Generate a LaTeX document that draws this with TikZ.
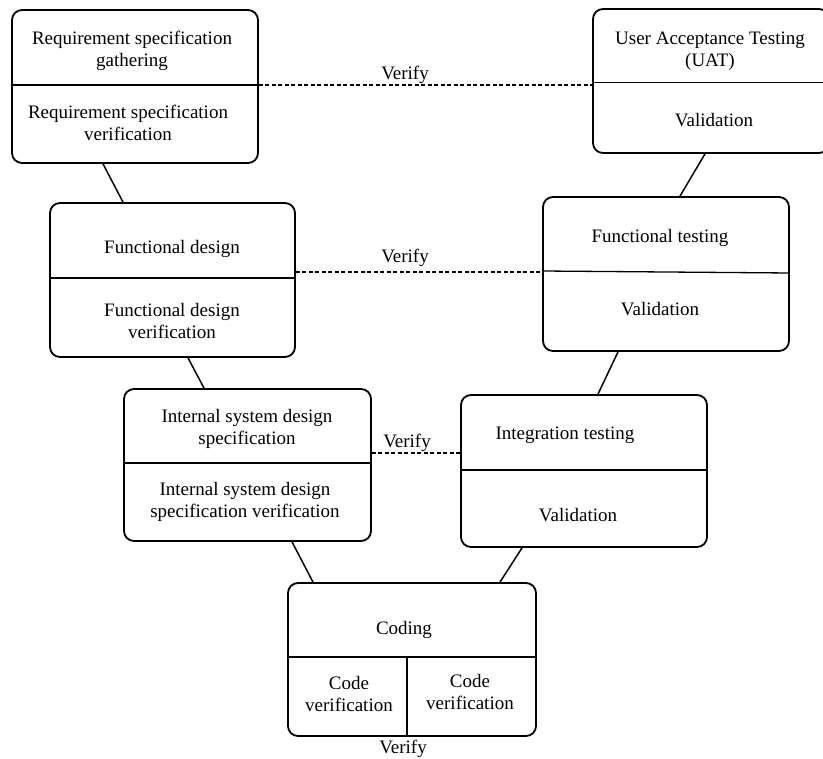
\documentclass[tikz,border=0pt]{standalone}
\usepackage{fontspec}
\setmainfont{Liberation Serif}
\begin{document}
\begin{tikzpicture}[x=1pt,y=-1pt,
  box/.style={draw, line width=1.8pt, rounded corners=10pt, inner sep=0pt},
  txt/.style={font=\fontsize{19}{22}\selectfont, align=center, inner sep=0pt},
  div/.style={line width=1.3pt},
  link/.style={line width=1.5pt},
  verif/.style={line width=1.5pt, dash pattern=on 4pt off 2.5pt}]
\useasboundingbox (0,0) rectangle (823,759);
\clip (0,0) rectangle (823,759);
% boxes
\node[box, minimum width=246pt, minimum height=153pt] (req) at (135,86.5) {};
\node[box, minimum width=236pt, minimum height=144pt] (uat) at (711,81) {};
\node[box, minimum width=245pt, minimum height=154pt] (fd) at (172.5,280) {};
\node[box, minimum width=246pt, minimum height=154pt] (ft) at (666,274) {};
\node[box, minimum width=247pt, minimum height=152pt] (isd) at (247.5,465) {};
\node[box, minimum width=246pt, minimum height=152pt] (it) at (584,471) {};
\node[box, minimum width=248pt, minimum height=153pt] (cod) at (412,659.5) {};
% dividers
\draw[div] ([yshift=1.5pt]req.west) -- ([yshift=1.5pt]req.east);
\draw[div] ([yshift=-1.5pt]uat.west) -- ([yshift=-1.5pt]uat.east);
\draw[div] ([yshift=2pt]fd.west) -- ([yshift=2pt]fd.east);
\draw[div] ([yshift=3pt]ft.west) -- ([yshift=1pt]ft.east);
\draw[div] ([yshift=2pt]isd.west) -- ([yshift=2pt]isd.east);
\draw[div] ([yshift=1pt]it.west) -- ([yshift=1pt]it.east);
\draw[div] ([yshift=2.5pt]cod.west) -- ([yshift=2.5pt]cod.east);
\draw[div] ([xshift=-5pt,yshift=2.5pt]cod.center) -- ([xshift=-5pt]cod.south);
% verify lines
\draw[verif] ([yshift=1.5pt]req.east) -- ([yshift=-4pt]uat.west);
\draw[verif] ([yshift=8pt]fd.east) -- ([yshift=2pt]ft.west);
\draw[verif] ([yshift=12pt]isd.east) -- ([yshift=18pt]it.west);
% connectors
\draw[link] ([xshift=-32pt]req.south) -- ([xshift=-49.5pt]fd.north);
\draw[link] ([xshift=-6pt]uat.south) -- ([xshift=14pt]ft.north);
\draw[link] ([xshift=15.5pt]fd.south) -- ([xshift=-43.5pt]isd.north);
\draw[link] ([xshift=-48pt]ft.south) -- ([xshift=14pt]it.north);
\draw[link] ([xshift=44.5pt]isd.south) -- ([xshift=-99pt]cod.north);
\draw[link] ([xshift=-62pt]it.south) -- ([xshift=88pt]cod.north);
% texts
\node[txt] (reqa) at (132,51) {Requirement specification\\gathering};
\node[txt] (reqb) at (128,123) {Requirement specification\\verification};
\node[txt] (uata) at (710,51) {User Acceptance Testing\\(UAT)};
\node[txt] (uatb) at (714,120) {Validation};
\node[txt] (fda) at (172,248.5) {Functional design};
\node[txt] (fdb) at (172,321) {Functional design\\verification};
\node[txt] (fta) at (660,237.5) {Functional testing};
\node[txt] (ftb) at (660,309.5) {Validation};
\node[txt] (isda) at (247,428.5) {Internal system design\\specification};
\node[txt] (isdb) at (245,501.5) {Internal system design\\specification verification};
\node[txt] (ita) at (565,435.5) {Integration testing};
\node[txt] (itb) at (578,515.5) {Validation};
\node[txt] (coda) at (404,629.5) {Coding};
\node[txt] (codb) at (349,694.5) {Code\\verification};
\node[txt] (codc) at (470,692.5) {Code\\verification};
% verify labels
\node[txt] (v1) at (405,74.5) {Verify};
\node[txt] (v2) at (405,257.5) {Verify};
\node[txt] (v3) at (407,442.5) {Verify};
\node[txt] (v4) at (403,749) {Verify};
\end{tikzpicture}
\end{document}
